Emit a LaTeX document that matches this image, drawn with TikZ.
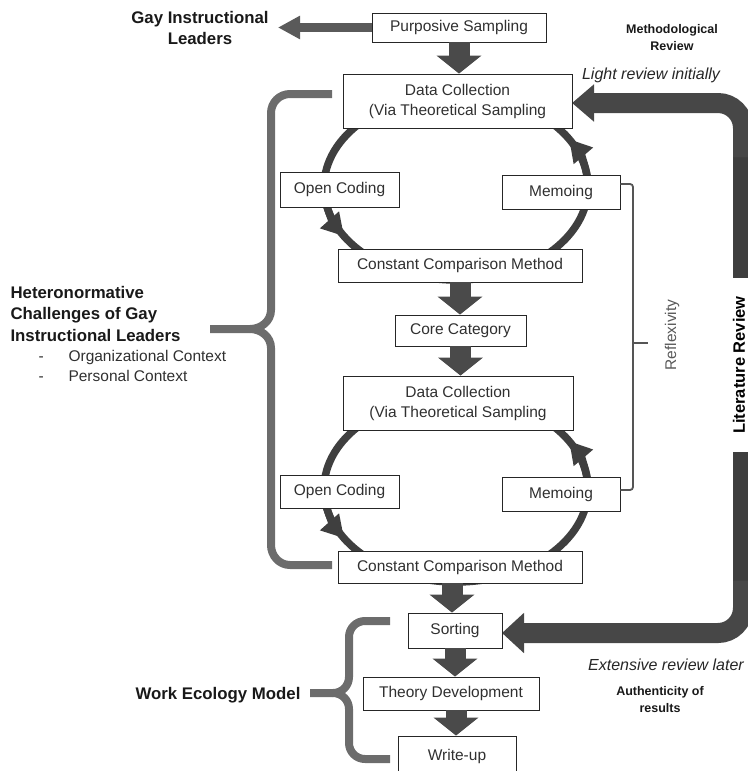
\documentclass[tikz,border=0pt]{standalone}
\usepackage{fontspec}
\setmainfont{Liberation Sans}
\usetikzlibrary{arrows.meta}
\definecolor{boxtxt}{HTML}{303030}
\definecolor{ringc}{HTML}{3F3F3F}
\definecolor{blkc}{HTML}{4A4A4A}
\definecolor{bandc}{HTML}{474747}
\definecolor{bandd}{HTML}{3E3E3E}
\definecolor{bracec}{HTML}{6C6C6C}
\definecolor{leftarr}{HTML}{5A5A5A}
\definecolor{reflc}{HTML}{555555}
\begin{document}
\begin{tikzpicture}[x=1pt,y=-1pt,
  box/.style 2 args={draw=black!85, line width=0.8pt, fill=white, minimum width=#1pt, minimum height=#2pt,
    inner sep=0pt, align=center, text=boxtxt, font=\fontsize{15.5}{20}\selectfont},
  blk/.style={draw=blkc, line width=21pt, -{Triangle[length=18pt,width=44pt]}},
  ring/.style={draw=ringc, line width=7.5pt},
  ringarr/.style={draw=ringc, line width=7.5pt, -{Triangle[length=22pt,width=24pt]}},
  brace/.style={draw=bracec, line width=8pt, line join=round},
  bigbold/.style={font=\bfseries\fontsize{16.8}{21.5}\selectfont, text=black!90, align=center},
  smallbold/.style={font=\bfseries\fontsize{12.5}{17}\selectfont, text=black!90, align=center},
  ital/.style={font=\itshape\fontsize{16}{20}\selectfont, text=black!85},
  plain/.style={font=\fontsize{15.5}{20}\selectfont, text=boxtxt},
]
\useasboundingbox (0,0) rectangle (747,771);

% rings (behind the boxes)
\draw[ring] (456,187) ellipse [x radius=132pt, y radius=93pt];
\draw[ring] (456,489) ellipse [x radius=132pt, y radius=93pt];
\draw[ringarr] (456,187) ++(190:132pt and 93pt) arc[start angle=190, end angle=212, x radius=132pt, y radius=93pt];
\draw[ringarr] (456,187) ++(6:132pt and 93pt) arc[start angle=6, end angle=31, x radius=132pt, y radius=93pt];
\draw[ringarr] (456,489) ++(190:132pt and 93pt) arc[start angle=190, end angle=212, x radius=132pt, y radius=93pt];
\draw[ringarr] (456,489) ++(6:132pt and 93pt) arc[start angle=6, end angle=31, x radius=132pt, y radius=93pt];

% literature review band
\coordinate (lrc) at (743,360);
\draw[draw=bandc, line width=20pt, rounded corners=25pt,
  {Triangle[length=22pt,width=36pt]}-{Triangle[length=22pt,width=39pt]}]
  (572,103) -| (lrc) |- (502,633);
\fill[bandd] (733,157) rectangle (765,580);
\draw[black!75, line width=0.6pt] (765,157) -- (733,157) -- (733,580) -- (765,580);
\fill[white] (732,278) rectangle (766,452);
\node[rotate=90, font=\bfseries\fontsize{16.5}{20}\selectfont, text=black] (litrev) at (739,365) {Literature Review};

% boxes
\node[box={174}{29}] (ps) at (459,27.5) {Purposive Sampling};
\node[box={229}{54}] (dc1) at (457.5,101) {Data Collection\\(Via Theoretical Sampling};
\node[box={119}{35}] (oc1) at (339.5,189.5) {Open Coding};
\node[box={118}{34}] (me1) at (561,192) {Memoing};
\node[box={244}{33}] (cc1) at (460,265.5) {Constant Comparison Method};
\node[box={131}{31}] (core) at (460.5,330.5) {Core Category};
\node[box={230}{54}] (dc2) at (458,403) {Data Collection\\(Via Theoretical Sampling};
\node[box={119}{33}] (oc2) at (339.5,491.5) {Open Coding};
\node[box={118}{34}] (me2) at (561,494) {Memoing};
\node[box={244}{32}] (cc2) at (460,567) {Constant Comparison Method};
\node[box={94}{35}] (sort) at (455,630.5) {Sorting};
\node[box={176}{33}] (theory) at (451,693.5) {Theory Development};
\node[box={118}{40}] (write) at (457,756) {Write-up};

% block arrows
\draw[blk] (ps.south) -- (ps.south |- dc1.north);
\draw[blk] (cc1.south) -- (cc1.south |- core.north);
\draw[blk] (core.south) -- (core.south |- dc2.north);
\draw[blk] ([xshift=-8pt]cc2.south) -- ([xshift=-8pt]cc2.south |- sort.north);
\draw[blk] (sort.south) -- (sort.south |- theory.north);
\draw[blk] ([xshift=5pt]theory.south) -- ([xshift=5pt]theory.south |- write.north);

% Gay Instructional Leaders
\node[bigbold] (gil) at (200,28) {Gay Instructional\\Leaders};
\coordinate (giltip) at (278,27.5);
\draw[draw=leftarr, line width=9pt, -{Triangle[length=22pt,width=22pt]}] (ps.west) -- (giltip);

% right-hand labels
\node[smallbold] (meth) at (672,38) {Methodological\\Review};
\node[ital] (light) at (651,75) {Light review initially};
\node[ital] (ext) at (666,665) {Extensive review later};
\node[smallbold] (auth) at (660,700) {Authenticity of\\results};

% Heteronormative brace
\draw[brace] (332,94) -- (290,94) to[out=180,in=90] (271,113) -- (271,310) to[out=270,in=0] (250,329) -- (210,329);
\draw[brace] (250,329) to[out=0,in=90] (271,348) -- (271,545) to[out=270,in=180] (290,565) -- (332,565);
\node[bigbold, anchor=base west] (h1) at (7,298) {Heteronormative};
\node[bigbold, anchor=base west] (h2) at (7,319.5) {Challenges of Gay};
\node[bigbold, anchor=base west] (h3) at (7,341) {Instructional Leaders};
\node[plain, anchor=base west] (d1) at (35,361) {-};
\node[plain, anchor=base west] (l1) at (65,361) {Organizational Context};
\node[plain, anchor=base west] (d2) at (35,381) {-};
\node[plain, anchor=base west] (l2) at (65,381) {Personal Context};

% Work Ecology brace
\draw[brace] (390,621) -- (365,621) to[out=180,in=90] (349,637) -- (349,677) to[out=270,in=0] (333,693) -- (310,693);
\draw[brace] (333,693) to[out=0,in=90] (349,709) -- (349,743) to[out=270,in=180] (365,759) -- (390,759);
\node[bigbold, anchor=base] (wem) at (218,699) {Work Ecology Model};

% Reflexivity bracket
\draw[draw=reflc, line width=1.8pt, rounded corners=3pt]
  ([yshift=8pt]me1.east) -- ([yshift=8pt]me1.east -| 633,0) -- ([yshift=4pt]me2.east -| 633,0) -- ([yshift=4pt]me2.east);
\coordinate (rtick) at (648,343);
\draw[draw=reflc, line width=1.8pt] (rtick -| 633,0) -- (rtick);
\node[rotate=90, font=\fontsize{15.5}{18}\selectfont, text=black!65] (refl) at (672,335) {Reflexivity};
\end{tikzpicture}
\end{document}
